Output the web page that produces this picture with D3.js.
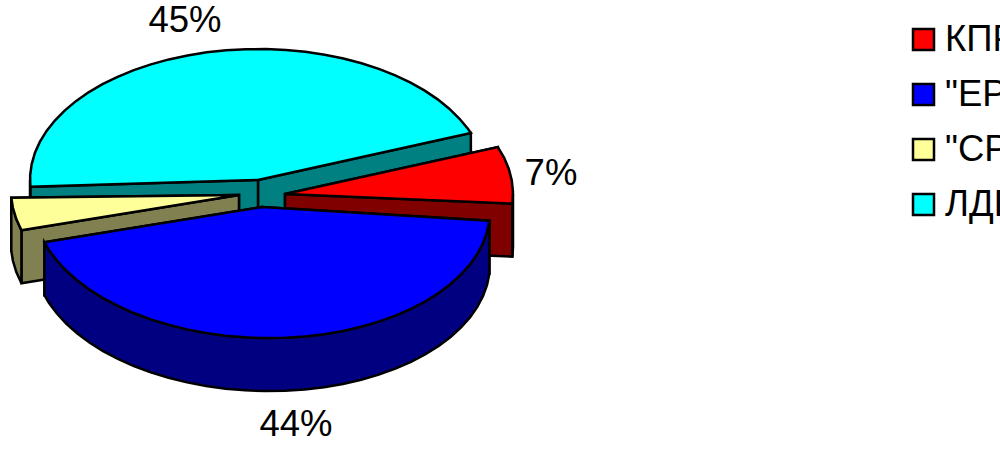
<!DOCTYPE html>
<html>
<head>
<meta charset="utf-8">
<script src="https://d3js.org/d3.v7.min.js"></script>
<style>
  html, body { margin: 0; padding: 0; background: #fff; overflow: hidden; }
  text { font-family: "Liberation Sans", Arial, sans-serif; fill: #000; }
</style>
</head>
<body>
<div id="chart"></div>
<script>
// data
const parties = ["КПРФ", "\"ЕР\"", "\"СР\"", "ЛДПР"];
const shares = [7, 44, 4, 45];
const topColors = ["#ff0000", "#0000ff", "#ffff99", "#00ffff"];
const sideColors = ["#800000", "#000080", "#808050", "#008080"];

// layout
const width = 1000, height = 457;
const rx = 228, ry = 131, depth = 53;
const firstAngle = 69;
const apexX = [285, 262, 239, 258];
const apexY = [194, 207, 195, 180];
const tilt = [0, 0.018, 0.018, 0]; // the original's perspective leans these two a little
const labelX = [551, 296, 0, 185];
const labelY = [185, 436, 0, 32];

const svg = d3.select("#chart").append("svg")
  .attr("width", width)
  .attr("height", height)
  .style("display", "block");

const rad = d => d * Math.PI / 180;
const unitX = d3.scaleLinear().domain([-1, 1]).range([-rx, rx]);
const unitY = d3.scaleLinear().domain([-1, 1]).range([-ry, ry]);

const pie = d3.pie().sort(null)
  .startAngle(rad(firstAngle))
  .endAngle(rad(firstAngle + 360));

const slices = pie(shares).map((s, i) => ({
  i, start: s.startAngle, end: s.endAngle, cx: apexX[i], cy: apexY[i], lean: tilt[i]
}));

const line = d3.line().x(d => d[0]).y(d => d[1]);

// point on the rim of a slice, angle clockwise from the top
const rim = (s, a, drop = 0) => {
  const dx = unitX(Math.sin(a));
  return [s.cx + dx, s.cy + unitY(-Math.cos(a)) + dx * s.lean + drop];
};

const arcAngles = (a0, a1) => {
  const step = rad(5);
  const out = d3.range(a0, a1, step);
  out.push(a1);
  return out;
};

const face = (g, pts, fill) => g.append("path")
  .attr("d", line(pts) + "Z")
  .attr("fill", fill)
  .attr("stroke", "#000")
  .attr("stroke-width", 2.5)
  .attr("stroke-linejoin", "miter");

// back slices first
slices.slice().sort((a, b) => a.cy - b.cy).forEach(s => {
  const g = svg.append("g");
  const side = sideColors[s.i];

  // flat cut walls, the one further back goes first
  [s.start, s.end]
    .sort((a, b) => rim(s, a)[1] - rim(s, b)[1])
    .forEach(a => {
      const p = rim(s, a), q = rim(s, a, depth);
      face(g, [[s.cx, s.cy], p, q, [s.cx, s.cy + depth]], side);
    });

  // outer wall, front half of the ellipse only
  [[rad(90), rad(270)], [rad(450), rad(630)]].forEach(([f0, f1]) => {
    const a0 = Math.max(s.start, f0), a1 = Math.min(s.end, f1);
    if (a0 >= a1) return;
    const angles = arcAngles(a0, a1);
    face(g, angles.map(a => rim(s, a))
      .concat(angles.slice().reverse().map(a => rim(s, a, depth))), side);
  });

  // top
  face(g, [[s.cx, s.cy]].concat(arcAngles(s.start, s.end).map(a => rim(s, a))), topColors[s.i]);
});

// percent labels
const labelled = shares.map((v, i) => ({ v, i })).filter(d => labelX[d.i] > 0);
svg.selectAll("text.pct")
  .data(labelled)
  .join("text")
    .attr("class", "pct")
    .attr("x", d => labelX[d.i])
    .attr("y", d => labelY[d.i])
    .attr("text-anchor", "middle")
    .style("font-size", "36.5px")
    .text(d => d.v + "%");

// legend, runs off the right edge like the original
const legendY = d3.scalePoint().domain(parties).range([39, 204]);
const legend = svg.selectAll("g.item")
  .data(parties)
  .join("g")
    .attr("class", "item")
    .attr("transform", d => `translate(913,${legendY(d)})`);

legend.append("rect")
  .attr("y", -10)
  .attr("width", 21)
  .attr("height", 21)
  .attr("fill", (d, i) => topColors[i])
  .attr("stroke", "#000")
  .attr("stroke-width", 2.5);

legend.append("text")
  .attr("x", 32)
  .attr("y", 12)
  .style("font-size", "36.5px")
  .text(d => d);
</script>
</body>
</html>
